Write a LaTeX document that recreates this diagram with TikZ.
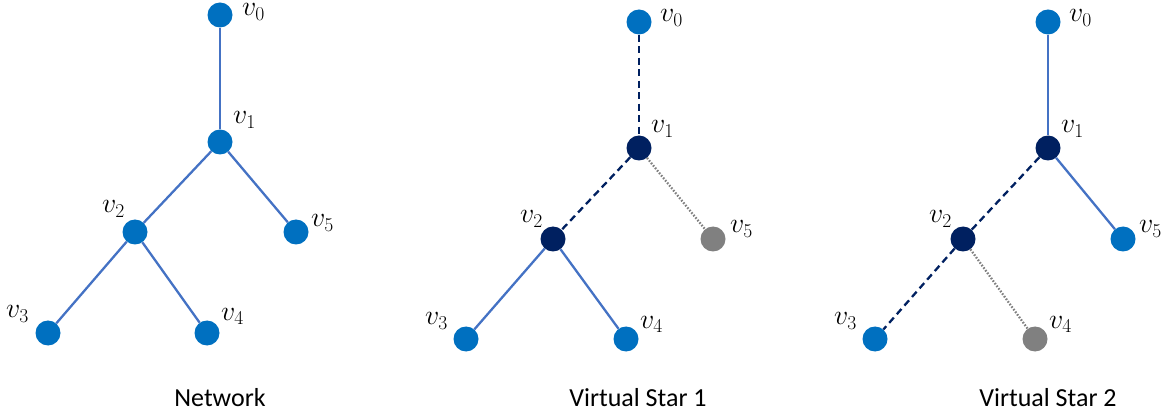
\RequirePackage{fix-cm}
\documentclass[tikz,border=0pt]{standalone}
\usepackage{fontspec}
\newfontfamily\capfont{Carlito}
\definecolor{nblue}{HTML}{0070C0}
\definecolor{nnavy}{HTML}{002060}
\definecolor{ngray}{HTML}{808080}
\definecolor{eblue}{HTML}{4472C4}
\tikzset{
  vtx/.style={circle,fill=nblue,minimum size=25pt,inner sep=0pt},
  vnavy/.style={vtx,fill=nnavy},
  vgray/.style={vtx,fill=ngray},
  lbl/.style={inner sep=0pt,anchor=base west,font=\fontsize{28}{28}\selectfont},
  captxt/.style={inner sep=0pt,font=\fontsize{26}{26}\selectfont\capfont},
  esolid/.style={draw=eblue,line width=2.3pt},
  edash/.style={draw=nnavy,line width=2.3pt,dash pattern=on 7pt off 4.5pt},
  edot/.style={draw=ngray,line width=2.3pt,dash pattern=on 1.6pt off 1.6pt}
}
\begin{document}
\begin{tikzpicture}[x=1pt,y=-1pt]
\useasboundingbox (0,0) rectangle (1171,414);
% ---- Network ----
\node[vtx] (a0) at (220,15) {};
\node[vtx] (a1) at (220,142) {};
\node[vtx] (a2) at (135,232) {};
\node[vtx] (a5) at (296,232) {};
\node[vtx] (a3) at (48,333) {};
\node[vtx] (a4) at (207,333) {};
\draw[esolid] (a0) -- (a1);
\draw[esolid] (a1) -- (a2);
\draw[esolid] (a1) -- (a5);
\draw[esolid] (a2) -- (a3);
\draw[esolid] (a2) -- (a4);
\node[lbl] (la0) at (242,16) {$v_0$};
\node[lbl] (la1) at (233,124) {$v_1$};
\node[lbl] (la2) at (102,213) {$v_2$};
\node[lbl] (la5) at (311,227) {$v_5$};
\node[lbl] (la3) at (6,318) {$v_3$};
\node[lbl] (la4) at (221,320) {$v_4$};
\node[captxt] (ca) at (220,398) {Network};
% ---- Virtual Star 1 ----
\node[vtx] (b0) at (639,22) {};
\node[vnavy] (b1) at (639,148) {};
\node[vnavy] (b2) at (553,239) {};
\node[vgray] (b5) at (713,239) {};
\node[vtx] (b3) at (466,339) {};
\node[vtx] (b4) at (626,339) {};
\draw[edash] (b0) -- (b1);
\draw[edash] (b1) -- (b2);
\draw[edot] (b1) -- (b5);
\draw[esolid] (b2) -- (b3);
\draw[esolid] (b2) -- (b4);
\node[lbl] (lb0) at (660,22) {$v_0$};
\node[lbl] (lb1) at (651,133) {$v_1$};
\node[lbl] (lb2) at (520,223) {$v_2$};
\node[lbl] (lb5) at (730,233) {$v_5$};
\node[lbl] (lb3) at (425,325) {$v_3$};
\node[lbl] (lb4) at (640,328) {$v_4$};
\node[captxt] (cb) at (638,398) {Virtual Star 1};
% ---- Virtual Star 2 ----
\node[vtx] (c0) at (1048,22) {};
\node[vnavy] (c1) at (1048,148) {};
\node[vnavy] (c2) at (963,239) {};
\node[vtx] (c5) at (1123,239) {};
\node[vtx] (c3) at (875,339) {};
\node[vgray] (c4) at (1035,339) {};
\draw[esolid] (c0) -- (c1);
\draw[edash] (c1) -- (c2);
\draw[esolid] (c1) -- (c5);
\draw[edash] (c2) -- (c3);
\draw[edot] (c2) -- (c4);
\node[lbl] (lc0) at (1069,22) {$v_0$};
\node[lbl] (lc1) at (1061,133) {$v_1$};
\node[lbl] (lc2) at (929,223) {$v_2$};
\node[lbl] (lc5) at (1139,233) {$v_5$};
\node[lbl] (lc3) at (834,325) {$v_3$};
\node[lbl] (lc4) at (1049,328) {$v_4$};
\node[captxt] (cc) at (1048,398) {Virtual Star 2};
\end{tikzpicture}
\end{document}
